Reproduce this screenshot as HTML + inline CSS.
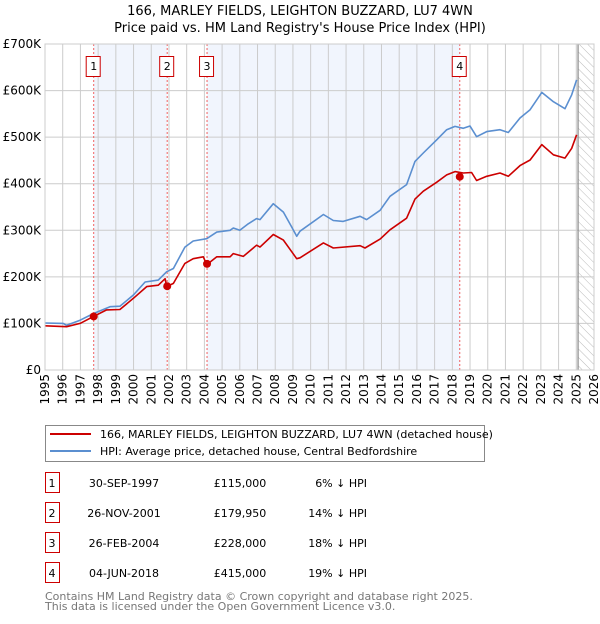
<!DOCTYPE html>
<html><head><meta charset="utf-8">
<style>
body{margin:0;background:#fff;font-family:"DejaVu Sans","Liberation Sans",sans-serif;}
svg text{font-family:"DejaVu Sans","Liberation Sans",sans-serif;}
</style></head>
<body>
<svg id="chart" width="600" height="620" xmlns="http://www.w3.org/2000/svg">
<defs>
<pattern id="hatch" patternUnits="userSpaceOnUse" width="6" height="6" patternTransform="rotate(-45)">
<line x1="0" y1="0" x2="0" y2="6" stroke="#bbb" stroke-width="1"/>
</pattern>
</defs>
<text x="300" y="15" text-anchor="middle" font-size="13">166, MARLEY FIELDS, LEIGHTON BUZZARD, LU7 4WN</text>
<text x="300" y="32" text-anchor="middle" font-size="13">Price paid vs. HM Land Registry's House Price Index (HPI)</text>
<g id="plot"></g>
<g>
<rect x="45.5" y="425.5" width="439" height="36" fill="#fff" stroke="#888"/>
<line x1="50" y1="434" x2="91" y2="434" stroke="#cc0000" stroke-width="2"/>
<text x="100" y="438" font-size="11">166, MARLEY FIELDS, LEIGHTON BUZZARD, LU7 4WN (detached house)</text>
<line x1="50" y1="451" x2="91" y2="451" stroke="#5b8fd0" stroke-width="2"/>
<text x="100" y="455" font-size="11">HPI: Average price, detached house, Central Bedfordshire</text>
</g>
<g id="table" font-size="11"></g>
<text x="45" y="600" font-size="11" fill="#777">Contains HM Land Registry data © Crown copyright and database right 2025.</text>
<text x="45" y="610" font-size="11" fill="#777">This data is licensed under the Open Government Licence v3.0.</text>
</svg>
<script>
const hpiYears=[1995.0,1996.03,1996.22,1996.98,1997.73,1998.67,1999.23,1999.99,2000.65,2001.4,2001.87,2002.25,2002.9,2003.37,2004.13,2004.7,2005.45,2005.63,2006.0,2006.48,2006.95,2007.14,2007.89,2008.46,2008.93,2009.21,2009.4,2010.72,2011.28,2011.84,2012.79,2013.16,2013.92,2014.48,2015.42,2015.89,2016.36,2017.11,2017.68,2018.15,2018.62,2019.0,2019.37,2019.94,2020.69,2021.16,2021.82,2022.39,2023.05,2023.71,2024.36,2024.74,2025.02];
const hpiValues=[101,100,96,107,121,136,137,161,189,193,211,218,264,277,282,296,300,305,300,314,325,323,357,339,307,287,298,334,321,319,330,323,343,373,398,448,466,494,516,523,519,524,501,512,516,510,541,559,596,576,561,591,623];
const priceYears=[1995.0,1996.22,1996.98,1997.69,1998.48,1999.23,1999.99,2000.74,2001.4,2001.78,2001.87,2002.25,2002.9,2003.37,2003.94,2004.13,2004.7,2005.45,2005.63,2006.2,2006.95,2007.14,2007.89,2008.46,2008.93,2009.21,2009.4,2010.72,2011.28,2012.79,2013.07,2013.92,2014.48,2015.42,2015.89,2016.36,2017.11,2017.68,2018.15,2018.62,2019.09,2019.37,2019.94,2020.69,2021.16,2021.82,2022.39,2023.05,2023.71,2024.36,2024.74,2025.02];
const priceValues=[95,93,100,114,129,130,154,179,182,196,179,186,229,239,243,226,243,243,250,244,268,264,291,279,254,239,241,273,262,267,262,281,301,326,367,384,403,419,426,423,424,407,416,423,416,439,451,484,462,455,476,505];
const saleYears=[1997.75,2001.9,2004.15,2018.42];
const saleValues=[115,179.95,228,415];
const saleLabels=["1","2","3","4"];
const saleDates=["30-SEP-1997","26-NOV-2001","26-FEB-2004","04-JUN-2018"];
const salePrices=["£115,000","£179,950","£228,000","£415,000"];
const saleDiffs=["6% ↓ HPI","14% ↓ HPI","18% ↓ HPI","19% ↓ HPI"];
const yTicks=[0,100,200,300,400,500,600,700];
const yTickLabels=["£0","£100K","£200K","£300K","£400K","£500K","£600K","£700K"];
const xTicks=[1995,1996,1997,1998,1999,2000,2001,2002,2003,2004,2005,2006,2007,2008,2009,2010,2011,2012,2013,2014,2015,2016,2017,2018,2019,2020,2021,2022,2023,2024,2025,2026];

const X0=45,X1=594,Y0=370,Y1=44;
const xs=y=>X0+(y-1995)/(2026-1995)*(X1-X0);
const ys=v=>Y0-v/700*(Y0-Y1);
const NS="http://www.w3.org/2000/svg";
const plot=document.getElementById('plot');
function mk(tag,attrs,parent){const e=document.createElementNS(NS,tag);for(const k in attrs)e.setAttribute(k,attrs[k]);(parent||plot).appendChild(e);return e;}

// shaded bands
for(let i=0;i<saleYears.length;i+=2){
  const end=i+1<saleYears.length?saleYears[i+1]:2025.1;
  const b=mk('rect',{x:xs(saleYears[i]),y:Y1,width:xs(end)-xs(saleYears[i]),height:Y0-Y1,fill:'#eef3fc',opacity:0.8});
  
  
}
// hatch
const h=mk('rect',{x:xs(2025.1),y:Y1,width:X1-xs(2025.1),height:Y0-Y1,fill:'url(#hatch)'});


// grid
xTicks.forEach(t=>{
  const l=mk('line',{x1:xs(t),x2:xs(t),y1:Y1,y2:Y0,stroke:'#ccc','stroke-width':1});
  
  
  const tx=mk('text',{x:0,y:0,'font-size':12,'text-anchor':'end',transform:`translate(${xs(t)+4},${Y0+4}) rotate(-90)`});
  tx.textContent=t;
  
  
});
yTicks.forEach((t,i)=>{
  const l=mk('line',{x1:X0,x2:X1,y1:ys(t),y2:ys(t),stroke:'#ccc','stroke-width':1});
  
  
  const tx=mk('text',{x:X0-4,y:ys(t)+4,'font-size':12,'text-anchor':'end'});
  tx.textContent=yTickLabels[i];
  
  
});
const vl=mk('line',{x1:xs(2025.1),x2:xs(2025.1),y1:Y1,y2:Y0,stroke:'#888','stroke-width':1.2});


// sale vlines & labels
saleYears.forEach((y,i)=>{
  const l=mk('line',{x1:xs(y),x2:xs(y),y1:Y1,y2:Y0,stroke:'#f06060','stroke-width':1,'stroke-dasharray':'2,2'});
  
  
  const r=mk('rect',{x:xs(y)-7.5,y:56.5,width:14,height:20,fill:'#fff',stroke:'#cc0000'});
  
  
  const t=mk('text',{x:xs(y),y:70,'font-size':11,'text-anchor':'middle'});
  t.textContent=saleLabels[i];
  
  
});
function path(xa,va,color,name){
  const d=xa.map((x,i)=>(i?'L':'M')+xs(x).toFixed(1)+','+ys(va[i]).toFixed(1)).join('');
  const p=mk('path',{d:d,fill:'none',stroke:color,'stroke-width':1.6,'stroke-linejoin':'round'});
  
  
}
path(hpiYears,hpiValues,'#5b8fd0','hpi-line');
path(priceYears,priceValues,'#cc0000','price-paid-line');
saleYears.forEach((y,i)=>{
  const c=mk('circle',{cx:xs(y),cy:ys(saleValues[i]),r:4,fill:'#cc0000'});
  
  
});
// plot border
const bd=mk('rect',{x:X0,y:Y1,width:X1-X0,height:Y0-Y1,fill:'none',stroke:'#ccc'});



// table
const tb=document.getElementById('table');
saleLabels.forEach((s,i)=>{
  const cy=483+i*30;
  const r=mk('rect',{x:45.5,y:cy-10.5,width:14,height:20,fill:'#fff',stroke:'#cc0000'},tb);
  
  
  const vals=[[s,52,'middle'],[saleDates[i],124,'middle'],[salePrices[i],240,'middle'],[saleDiffs[i],367,'end']];
  vals.forEach(v=>{
    const t=mk('text',{x:v[1],y:cy+4,'text-anchor':v[2]},tb);
    t.textContent=v[0];
    
    
  });
});
</script>
</body></html>
